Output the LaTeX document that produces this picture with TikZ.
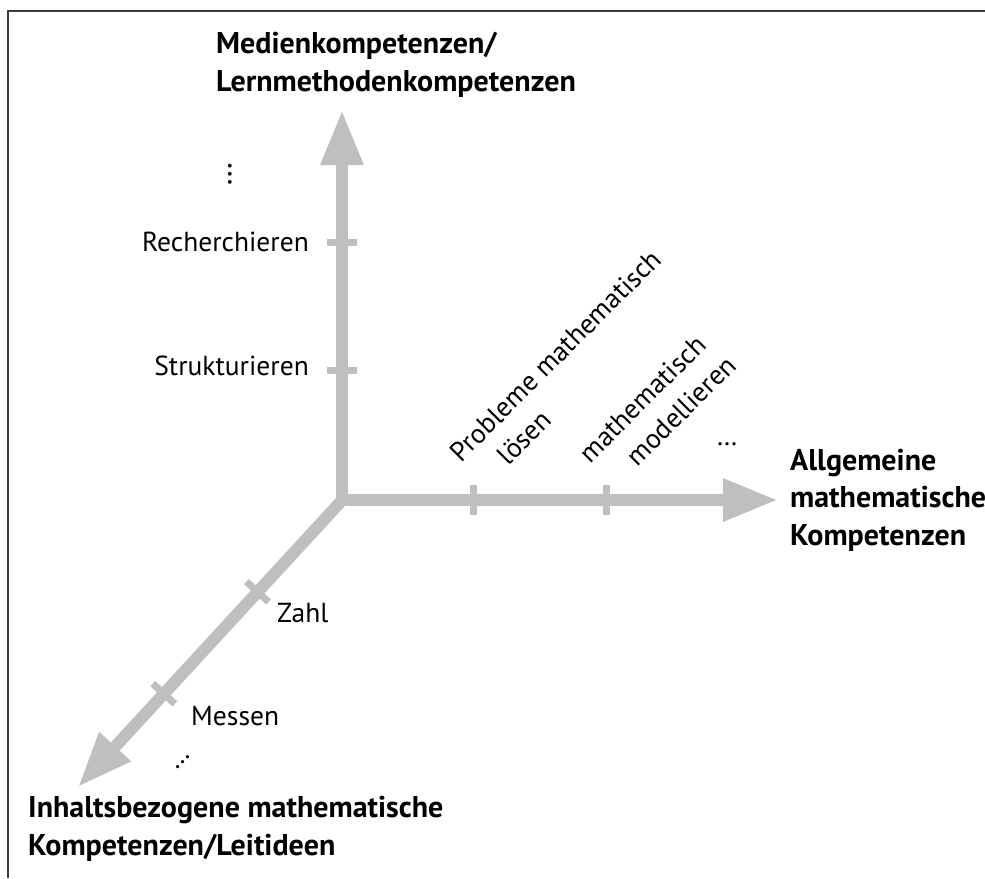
\documentclass[tikz,border=0pt]{standalone}
\usepackage{fontspec}
\setmainfont{PT Sans}
\usetikzlibrary{arrows.meta,calc}
\definecolor{axisgray}{RGB}{191,191,191}
\definecolor{framegray}{RGB}{60,60,60}
\begin{document}
\begin{tikzpicture}[x=1pt,y=-1pt,
  axis/.style={line width=12pt, draw=axisgray, -{Triangle[length=55pt,width=40pt]}},
  tickmark/.style={line width=7pt, draw=axisgray},
  lbl/.style={font=\fontsize{27.5}{36}\selectfont, inner sep=0pt},
  head/.style={font=\bfseries\fontsize{30}{37.5}\selectfont, inner sep=0pt, align=left},
]
\useasboundingbox (0,0) rectangle (985,878);
\draw[line width=2pt, draw=framegray] (7.5,878) -- (7.5,11) -- (985,11);

% axes
\coordinate (O) at (342,500);
\coordinate (U) at (342,110);
\coordinate (R) at (778,500);
\coordinate (D) at (78,787);
\coordinate (Ov) at (342,506);
\coordinate (Oh) at (336,500);
\coordinate (Od) at (346,496);
\draw[axis] (Ov) -- (U);
\draw[axis] (Oh) -- (R);
\draw[axis] (Od) -- (D);

% ticks
\coordinate (t1) at (342,242);
\coordinate (t2) at (342,370);
\coordinate (t3) at (473,500);
\coordinate (t4) at (606,500);
\coordinate (t5) at ($(O)!0.32!(D)$);
\coordinate (t6) at ($(O)!0.675!(D)$);
\draw[tickmark] ($(t1)+(-15,0)$) -- ($(t1)+(15,0)$);
\draw[tickmark] ($(t2)+(-15,0)$) -- ($(t2)+(15,0)$);
\draw[tickmark] ($(t3)+(0,-15)$) -- ($(t3)+(0,15)$);
\draw[tickmark] ($(t4)+(0,-15)$) -- ($(t4)+(0,15)$);
\draw[tickmark] ($(t5)!15pt!90:(D)$) -- ($(t5)!15pt!-90:(D)$);
\draw[tickmark] ($(t6)!15pt!90:(D)$) -- ($(t6)!15pt!-90:(D)$);

% headings
\node[head, anchor=west] (medien) at (216,65) {Medienkompetenzen/\\Lernmethodenkompetenzen};
\node[head, anchor=west] (allg) at (790,500) {Allgemeine\\mathematische\\Kompetenzen};
\node[head, anchor=west] (inhalt) at (28,829) {Inhaltsbezogene mathematische\\Kompetenzen/Leitideen};

% vertical labels
\node[lbl, rotate=90, font=\fontsize{32}{36}\selectfont] (vdots) at (230,174) {\dots};
\node[lbl, anchor=east] (rech) at (309,242) {Recherchieren};
\node[lbl, anchor=east] (strukt) at (309,366) {Strukturieren};

% horizontal labels
\node[lbl, align=left, rotate=45, anchor=south west] (probl) at (487,489)
  {Probleme mathematisch\\\hspace*{31pt}lösen};
\node[lbl, align=left, rotate=45, anchor=south west] (model) at (616,490)
  {mathematisch\\\hspace*{31pt}modellieren};
\node[lbl] (hdots) at (727,444) {\dots};

% diagonal labels
\node[lbl, anchor=west] (zahl) at (277,613) {Zahl};
\node[lbl, anchor=west] (messen) at (191,716) {Messen};
\node[lbl, rotate=45] (ddots) at (183,762) {\dots};
\end{tikzpicture}
\end{document}
